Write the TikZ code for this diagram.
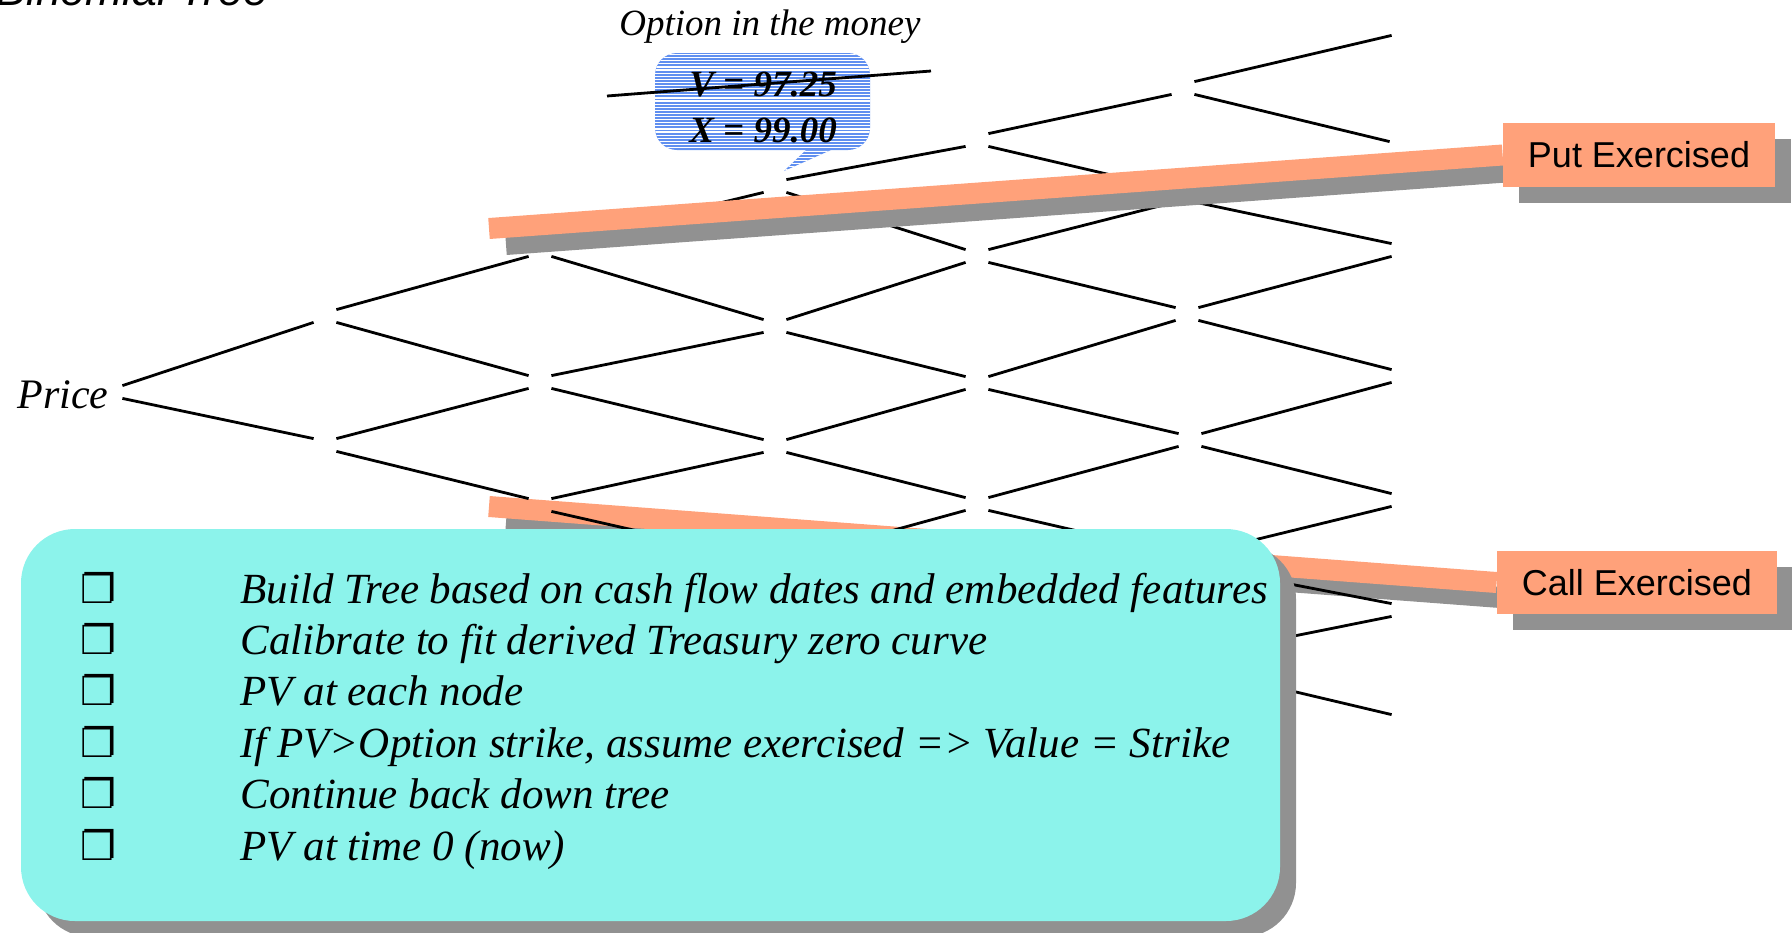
\documentclass[tikz,border=0pt]{standalone}
\usepackage{fontspec}
\setmainfont{Liberation Serif}
\newfontfamily\labelsans{Liberation Sans}
\newfontfamily\dingfont{DejaVu Sans}
\usetikzlibrary{calc,shadows}

\definecolor{barorange}{RGB}{255,161,122}
\definecolor{shadowgray}{RGB}{145,145,145}
\definecolor{notecyan}{RGB}{140,243,235}
\definecolor{calloutblue}{RGB}{96,143,240}

\pgfdeclarelayer{callbar}
\pgfdeclarelayer{lattice}
\pgfdeclarelayer{putbar}
\pgfsetlayers{callbar,lattice,putbar,main}

\begin{document}
\begin{tikzpicture}[x=0.5pt,y=-0.5pt,
  lat/.style={inner sep=0pt, minimum width=11pt, minimum height=6pt},
  tree/.style={line width=1.4pt, black},
  bar/.style={line width=10.5pt, barorange},
  barshadow/.style={line width=10.5pt, shadowgray},
  boxshadow/.style={drop shadow={shadow xshift=8pt, shadow yshift=-8pt, fill=shadowgray, opacity=1}},
  exlabel/.style={fill=barorange, inner sep=0pt, boxshadow,
    font=\labelsans\fontsize{18}{20}\selectfont},
  itemtext/.style={anchor=base west, inner sep=0pt, font=\itshape\fontsize{21.5}{25}\selectfont},
  itembullet/.style={anchor=base west, inner sep=0pt, font=\dingfont\fontsize{20}{22}\selectfont},
  infobox/.style={fill=notecyan, rounded corners=27pt, inner sep=0pt, boxshadow,
    minimum width=629.5pt, minimum height=196pt},
]
\useasboundingbox (0,0) rectangle (1792,932);
\clip (0,0) rectangle (1792,932);

% headings and axis label
\node[anchor=base west, inner sep=0pt, font=\labelsans\itshape\fontsize{22.3}{26}\selectfont] (title) at (-4,5) {Binomial Tree};
\node[anchor=base west, inner sep=0pt, font=\itshape\fontsize{21}{24}\selectfont] (price) at (17,408) {Price};
\node[anchor=base west, inner sep=0pt, font=\itshape\fontsize{18.5}{22}\selectfont] (itm) at (619,35) {Option in the money};

% lattice points (level, index from top)
\foreach \nm/\px/\py in {00/111/392,
  10/325/316, 11/325/445,
  20/540/250, 21/540/382, 22/540/505,
  30/775/186, 31/775/326, 32/775/446, 33/775/566,
  40/977/140, 41/977/256, 42/977/383, 43/977/504, 44/977/629,
  50/1183/88, 51/1185/196, 52/1187/314, 53/1190/440, 54/1187/560, 55/1185/662,
  60/1403/29, 61/1401/148, 62/1403/250, 63/1403/376, 64/1403/500, 65/1403/610, 66/1403/721}
  \node[lat] (n\nm) at (\px,\py) {};

% exercise labels
\node[exlabel, minimum width=136pt, minimum height=32pt] (putlbl) at (1639,155) {Put Exercised};
\node[exlabel, minimum width=140pt, minimum height=31.5pt] (calllbl) at (1637,582.5) {Call Exercised};

\coordinate (putfoot) at (489,228.5);
\coordinate (callfoot) at (489,506.5);

% call boundary sits under the lattice
\begin{pgfonlayer}{callbar}
  \draw[barshadow] ($(callfoot)+(17,16)$) -- ($(calllbl.west)+(17,16)$);
  \draw[bar] (callfoot) -- (calllbl.west);
\end{pgfonlayer}

% recombining binomial lattice
\begin{pgfonlayer}{lattice}
  \foreach \k in {0,...,5} {
    \pgfmathtruncatemacro\kk{\k+1}
    \foreach \i in {0,...,\k} {
      \pgfmathtruncatemacro\ii{\i+1}
      \draw[tree] (n\k\i.north east) -- (n\kk\i.south west);
      \draw[tree] (n\k\i.south east) -- (n\kk\ii.north west);
    }
  }
\end{pgfonlayer}

% put boundary sits over the lattice
\begin{pgfonlayer}{putbar}
  \draw[barshadow] ($(putfoot)+(17,16)$) -- ($(putlbl.west)+(17,16)$);
  \draw[bar] (putfoot) -- (putlbl.west);
\end{pgfonlayer}

% striped speech balloon
\fill[calloutblue, rounded corners=11pt] (655,53) rectangle (870,150);
\fill[calloutblue] (806,150) -- (831,150) -- (784,171) -- cycle;
\begin{scope}
  \clip[rounded corners=11pt] (655,53) rectangle (870,150);
  \foreach \k in {0,...,31}
    \draw[white, line width=0.6pt] (650,{54.5+3.1*\k}) -- (875,{54.5+3.1*\k});
\end{scope}
\begin{scope}
  \clip (806,150) -- (831,150) -- (784,171) -- cycle;
  \foreach \k in {0,...,8}
    \draw[white, line width=0.6pt] (780,{148+3.1*\k}) -- (835,{148+3.1*\k});
\end{scope}
\node[anchor=base, inner sep=0pt, font=\bfseries\itshape\fontsize{18.5}{22}\selectfont] (vval) at (763,96) {V = 97.25};
\node[anchor=base, inner sep=0pt, font=\bfseries\itshape\fontsize{18.5}{22}\selectfont] (xval) at (763,142) {X = 99.00};

\coordinate (sa) at (607,96);
\coordinate (sb) at (931,71);
\draw[tree] (sa) -- (sb);

% procedure box
\node[infobox] (info) at (650.5,725) {};
\foreach \t [count=\j from 0] in {
    {Build Tree based on cash flow dates and embedded features},
    {Calibrate to fit derived Treasury zero curve},
    {PV at each node},
    {If PV>Option strike, assume exercised => Value = Strike},
    {Continue back down tree},
    {PV at time 0 (now)}} {
  \node[itembullet] (b\j) at (80,{603+51.4*\j}) {❐};
  \node[itemtext] (t\j) at (240,{603+51.4*\j}) {\t};
}
\end{tikzpicture}
\end{document}
